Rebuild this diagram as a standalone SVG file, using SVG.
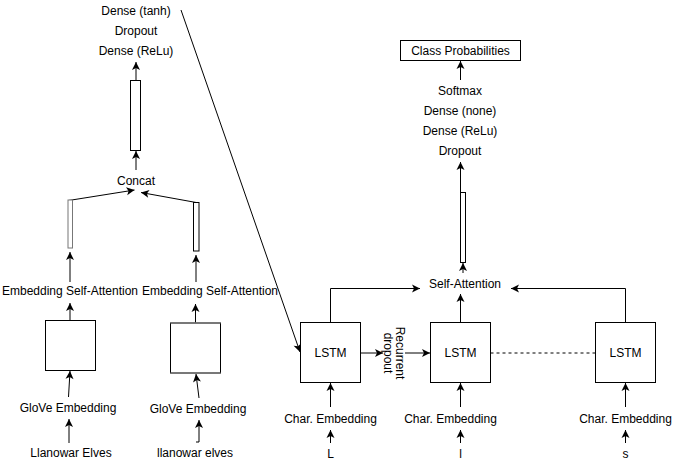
<svg xmlns="http://www.w3.org/2000/svg" width="681" height="464" viewBox="0 0 681 464">
<defs>
<marker id="arr" viewBox="-9 -5 10 10" refX="0" refY="0" markerWidth="10" markerHeight="10" markerUnits="userSpaceOnUse" orient="auto">
<path d="M0,0 L-8,-4 L-6,0 L-8,4 Z" fill="#000"/>
</marker>
</defs>
<style>
text{font-family:"Liberation Sans",Arial,sans-serif;font-size:12px;fill:#000;text-anchor:middle;dominant-baseline:central}
.c{fill:none;stroke:#000;stroke-width:1}
.a{marker-end:url(#arr)}
.box{fill:#fff;stroke:#000;stroke-width:1}
.edge{fill:none;stroke:#777;stroke-width:1.5}
</style>
<rect width="681" height="464" fill="#fff"/>
<g id="connectors">
<path class="c a" d="M136,80 L136,62"/>
<path class="c a" d="M136,170 L136,151"/>
<path class="c a" d="M68.5,200.5 L134.5,190"/>
<path class="c a" d="M199,203 L141,192.5"/>
<path class="c a" d="M70,282 L70,252"/>
<path class="c a" d="M196,282 L196,255"/>
<path class="c a" d="M70,320 L70,303"/>
<path class="c a" d="M195.5,323 L195.5,304"/>
<path class="c a" d="M68.5,397 L70,371"/>
<path class="c a" d="M199,398 L196,374"/>
<path class="c a" d="M69,443 L69,419"/>
<path class="c a" d="M196,442 L199,442 L199,420"/>
<path class="c a" d="M181,10 L300,352"/>
<path class="c a" d="M460.5,80 L460.5,61"/>
<path class="c a" d="M460.5,192 L460.5,162"/>
<path class="c a" d="M463,273 L463,263"/>
<path class="c a" d="M330.5,322 L330.5,288.5 L420,288.5"/>
<path class="c a" d="M625.5,322 L625.5,288.5 L511,288.5"/>
<path class="c a" d="M460.5,322 L460.5,294"/>
<path class="c a" d="M360.5,353 L383,353"/>
<path class="c a" d="M405,353 L430,353"/>
<path class="c" d="M490.5,353 L595.5,353" stroke-dasharray="3,3"/>
<path class="c a" d="M330.5,407 L330.5,383"/>
<path class="c a" d="M460.5,407 L460.5,383"/>
<path class="c a" d="M625.5,407 L625.5,383"/>
<path class="c a" d="M330.5,443 L330.5,430"/>
<path class="c a" d="M460.5,443 L460.5,430"/>
<path class="c a" d="M625.5,443 L625.5,430"/>
</g>
<g id="dense-top-left">
<text x="136" y="11">Dense (tanh)</text>
<text x="136" y="31">Dropout</text>
<text x="136" y="51">Dense (ReLu)</text>
</g>
<g id="vec-left"><rect class="box" x="130.5" y="80.5" width="10" height="70"/></g>
<g id="concat"><text x="136" y="181">Concat</text></g>
<g id="att-vec-1"><rect x="68" y="200" width="4.5" height="48" fill="#fff" stroke="#777" stroke-width="1"/></g>
<g id="att-vec-2"><rect class="box" x="193.5" y="202.5" width="5.5" height="48.5"/></g>
<g id="emb-att-1"><text x="70" y="291">Embedding Self-Attention</text></g>
<g id="emb-att-2"><text x="210" y="291">Embedding Self-Attention</text></g>
<g id="box-1"><rect class="box" x="45.5" y="320.5" width="50" height="50"/></g>
<g id="box-2"><rect class="box" x="170.5" y="323" width="50" height="50"/><path class="edge" d="M170.5,323 L220.5,323 M170.5,373 L220.5,373"/></g>
<g id="glove-1"><text x="68" y="408">GloVe Embedding</text></g>
<g id="glove-2"><text x="198" y="409">GloVe Embedding</text></g>
<g id="input-1"><text x="71" y="453">Llanowar Elves</text></g>
<g id="input-2"><text x="195" y="453">llanowar elves</text></g>
<g id="class-prob"><rect class="box" x="400.5" y="40.5" width="120" height="20"/><text x="460.5" y="50.5">Class Probabilities</text></g>
<g id="head-layers">
<text x="460" y="91">Softmax</text>
<text x="460" y="111">Dense (none)</text>
<text x="460" y="131">Dense (ReLu)</text>
<text x="460" y="151">Dropout</text>
</g>
<g id="vec-right"><rect class="box" x="460.5" y="192.5" width="5" height="70"/></g>
<g id="self-attention"><text x="465" y="284">Self-Attention</text></g>
<g id="lstm-1"><rect class="box" x="300.5" y="322.5" width="60" height="60"/><text x="330.5" y="353">LSTM</text></g>
<g id="lstm-2"><rect class="box" x="430.5" y="322.5" width="60" height="60"/><text x="460.5" y="353">LSTM</text></g>
<g id="lstm-3"><rect class="box" x="595.5" y="322.5" width="60" height="60"/><text x="625.5" y="353">LSTM</text></g>
<g id="recurrent-dropout" transform="rotate(90 394 353)">
<text x="394" y="347">Recurrent</text>
<text x="394" y="359">dropout</text>
</g>
<g id="char-1"><text x="330.5" y="419">Char. Embedding</text></g>
<g id="char-2"><text x="450.5" y="419">Char. Embedding</text></g>
<g id="char-3"><text x="625.5" y="419">Char. Embedding</text></g>
<g id="c-L"><text x="330.5" y="454">L</text></g>
<g id="c-l"><text x="460.5" y="454">l</text></g>
<g id="c-s"><text x="625.5" y="454">s</text></g>
</svg>
